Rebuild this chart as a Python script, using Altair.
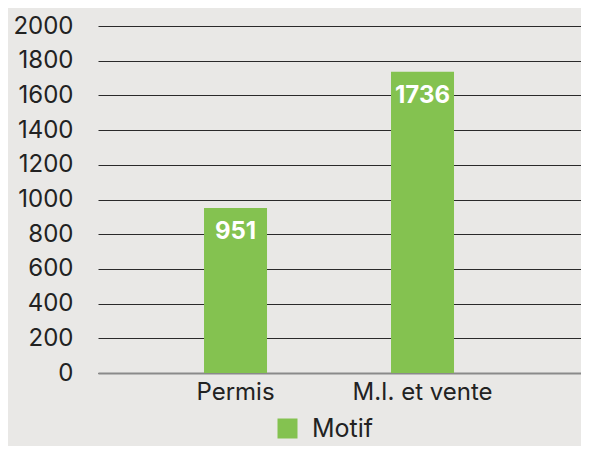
import altair as alt
import pandas as pd

categories = ["Permis", "M.I. et vente"]
values = [951, 1736]
series = ["Motif", "Motif"]
y_ticks = [0, 200, 400, 600, 800, 1000, 1200, 1400, 1600, 1800, 2000]

df = pd.DataFrame({"cat": categories, "val": values, "serie": series})

FONT = "Inter"
GREEN = "#84c250"

x = alt.X("cat:N", sort=categories, title=None,
          scale=alt.Scale(paddingInner=0.663, paddingOuter=0.623, align=0.455),
          axis=alt.Axis(labelAngle=0, labelFontSize=24, labelColor="#222222", labelFont=FONT,
                        ticks=False, labelPadding=7, domainColor="#8a8a8a", domainWidth=2,
                        grid=False))
y = alt.Y("val:Q", title=None,
          scale=alt.Scale(domain=[0, 2000], nice=False),
          axis=alt.Axis(values=y_ticks, tickCount=11, format="d", labelOverlap=False,
                        labelFontSize=24, labelColor="#222222", labelFont=FONT,
                        ticks=False, labelPadding=25, domain=False, gridColor="#2a2a2a",
                        gridWidth=1, gridOpacity=1))

bars = alt.Chart(df).mark_bar(size=63).encode(
    x=x, y=y,
    color=alt.Color("serie:N", scale=alt.Scale(range=[GREEN]),
                    legend=alt.Legend(title=None, orient="none", legendX=177, legendY=390,
                                      symbolType="square", symbolSize=400, symbolStrokeWidth=0,
                                      labelFontSize=25, labelFont=FONT, labelColor="#222222",
                                      labelOffset=12))
)

labels = alt.Chart(df).mark_text(
    baseline="alphabetic", dy=31, color="white", fontSize=24, fontWeight="bold", font=FONT
).encode(x=x, y=y, text="val:Q")

chart = alt.layer(bars, labels).properties(
    width=483, height=347,
    autosize=alt.AutoSizeParams(type="none"),
    padding={"left": 90, "top": 18, "right": 0, "bottom": 73},
).configure(background="#e9e8e6").configure_view(stroke=None)

chart.save("out.html", embed_options={"renderer": "svg", "actions": False})
